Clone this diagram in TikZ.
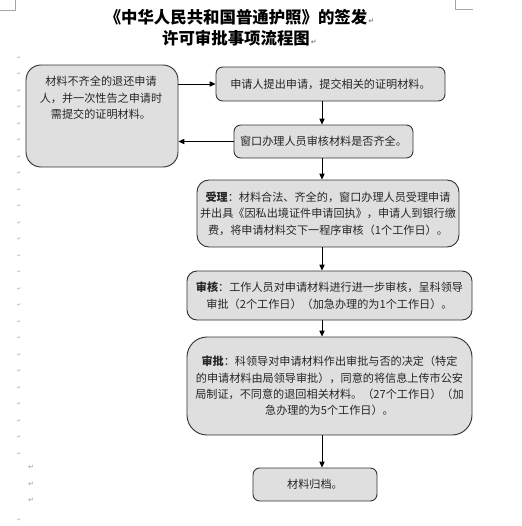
\documentclass[tikz,border=0pt]{standalone}
\usepackage{fontspec}
\newfontfamily\cjk{Noto Sans CJK SC}
\newfontfamily\markfont{DejaVu Sans}
\usetikzlibrary{arrows.meta}
\newcommand{\parmark}{\rlap{\color{gray}\markfont\fontsize{6pt}{6pt}\selectfont\,↵}}
\tikzset{
  procbox/.style={draw=black!80, fill=gray!25, line width=0.8pt, align=center,
    inner sep=0pt, text=black!85, font=\cjk\fontsize{9.5pt}{14pt}\selectfont},
  flow/.style={-{Triangle[length=5pt,width=4.5pt]}, line width=0.7pt},
  pmark/.style={text=gray!80, inner sep=0pt, font=\markfont\fontsize{4pt}{4pt}\selectfont},
  cropmark/.style={draw=gray!70, line width=0.5pt}
}
\begin{document}
\begin{tikzpicture}[x=0.03cm, y=-0.03cm]
\useasboundingbox (0,0) rectangle (521,526);
% page corners
\draw[cropmark] (15,0)--(15,10)--(0,10);
\draw[cropmark] (455,0)--(455,9)--(473,9);
% title
\node[align=center, inner sep=0pt, font=\cjk\bfseries\fontsize{14pt}{18pt}\selectfont]
  (title) at (236,28) {《中华人民共和国普通护照》的签发\parmark\\许可审批事项流程图\parmark};
% paragraph marks down the margin
\foreach \k in {0,...,24}
  \node[pmark] (dot\k) at (19,{58+16.5*\k}) {↵};
\foreach \k/\yy in {0/467,1/484,2/500}
  \node[pmark, font=\markfont\fontsize{6pt}{6pt}\selectfont] (ret\k) at (31,\yy) {↵};
\node[pmark] (dotend) at (19,520) {↵};
% boxes
\node[procbox, rounded corners=0.45cm, minimum width=4.56cm, minimum height=3.06cm]
  (reject) at (102,116) {};
\node[anchor=north, align=center, inner sep=0pt, text=black!85,
  font=\cjk\fontsize{9.5pt}{14pt}\selectfont] (rejecttxt) at (101,76)
  {材料不齐全的退还申请\\人，并一次性告之申请时\\需提交的证明材料。};
\node[procbox, rounded corners=0.2cm, minimum width=6.87cm, minimum height=1.02cm]
  (apply) at (330.5,84) {申请人提出申请，提交相关的证明材料。};
\node[procbox, rounded corners=0.2cm, minimum width=5.37cm, minimum height=0.99cm]
  (check) at (323.5,141.5) {窗口办理人员审核材料是否齐全。};
\node[procbox, rounded corners=0.36cm, minimum width=7.86cm, minimum height=2.01cm]
  (accept) at (328,213.5) {\textbf{受理}：材料合法、齐全的，窗口办理人员受理申请\\并出具《因私出境证件申请回执》，申请人到银行缴\\费，将申请材料交下一程序审核（1个工作日）。};
\node[procbox, rounded corners=0.3cm, minimum width=8.55cm, minimum height=1.47cm]
  (review) at (329.5,295.5) {\textbf{审核}：工作人员对申请材料进行进一步审核，呈科领导\\审批（2个工作日）（加急办理的为1个工作日）。};
\node[procbox, rounded corners=0.6cm, minimum width=8.55cm, minimum height=2.94cm]
  (approve) at (329.5,386) {\textbf{审批}：科领导对申请材料作出审批与否的决定（特定\\的申请材料由局领导审批），同意的将信息上传市公安\\局制证，不同意的退回相关材料。（27个工作日）（加\\急办理的为5个工作日）。};
\node[procbox, rounded corners=0.2cm, minimum width=3.72cm, minimum height=0.99cm]
  (archive) at (315,484.5) {材料归档。};
% connectors
\coordinate (spine) at (322,0);
\draw[flow] (reject.east |- apply.west) -- (apply.west);
\draw[flow] (apply.south -| spine) -- (check.north -| spine);
\draw[flow] (check.west) -- (check.west -| reject.east);
\draw[flow] (check.south -| spine) -- (accept.north -| spine);
\draw[flow] (accept.south -| spine) -- (review.north -| spine);
\draw[flow] (review.south -| spine) -- (approve.north -| spine);
\draw[flow] (approve.south -| spine) -- (archive.north -| spine);
\end{tikzpicture}
\end{document}
